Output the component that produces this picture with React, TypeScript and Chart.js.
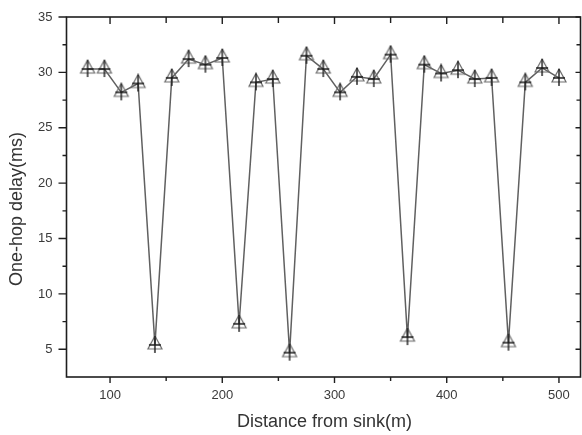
import React, { useEffect, useRef } from "react";
import { Chart, registerables } from "chart.js";

Chart.register(...registerables);

const distances = [80, 95, 110, 125, 140, 155, 170, 185, 200, 215, 230, 245, 260, 275, 290, 305, 320, 335, 350, 365, 380, 395, 410, 425, 440, 455, 470, 485, 500];
const delays = [30.3, 30.3, 28.2, 29.0, 5.4, 29.5, 31.2, 30.7, 31.3, 7.3, 29.1, 29.4, 4.7, 31.5, 30.3, 28.2, 29.6, 29.4, 31.6, 6.1, 30.7, 29.9, 30.2, 29.4, 29.5, 5.6, 29.1, 30.4, 29.5];
const xMajorTicks = [100, 200, 300, 400, 500];
const xMinorTicks = [150, 250, 350, 450];
const yMajorTicks = [5, 10, 15, 20, 25, 30, 35];
const yMinorTicks = [7.5, 12.5, 17.5, 22.5, 27.5, 32.5];
const xTitle = "Distance from sink(m)";
const yTitle = "One-hop delay(ms)";

const FONT = "'Liberation Sans', Arial, sans-serif";

function makeMarker(): HTMLCanvasElement {
  const c = document.createElement("canvas");
  c.width = 18;
  c.height = 20;
  const g = c.getContext("2d")!;
  g.lineWidth = 1.2;
  g.strokeStyle = "#6a6a6a";
  g.beginPath();
  g.moveTo(9, 1);
  g.lineTo(2, 14);
  g.lineTo(16, 14);
  g.closePath();
  g.stroke();
  g.strokeStyle = "#1a1a1a";
  g.lineWidth = 1.4;
  g.beginPath();
  g.moveTo(9, 1);
  g.lineTo(9, 18);
  g.moveTo(3, 10);
  g.lineTo(15, 10);
  g.stroke();
  return c;
}

const framePlugin = {
  id: "frame",
  afterDatasetsDraw(chart: any) {
    const { ctx, chartArea } = chart;
    const xs = chart.scales.x;
    const ys = chart.scales.y;
    const { left, right, top, bottom } = chartArea;
    ctx.save();
    ctx.strokeStyle = "#1e1e1e";
    ctx.lineWidth = 1.6;
    ctx.strokeRect(left, top, right - left, bottom - top);
    ctx.lineWidth = 1.4;
    ctx.beginPath();
    for (const v of yMajorTicks) {
      const p = ys.getPixelForValue(v);
      ctx.moveTo(left - 8, p);
      ctx.lineTo(left, p);
      ctx.moveTo(right - 5, p);
      ctx.lineTo(right, p);
    }
    for (const v of yMinorTicks) {
      const p = ys.getPixelForValue(v);
      ctx.moveTo(left - 4, p);
      ctx.lineTo(left, p);
      ctx.moveTo(right - 4, p);
      ctx.lineTo(right, p);
    }
    for (const v of xMajorTicks) {
      const p = xs.getPixelForValue(v);
      ctx.moveTo(p, bottom);
      ctx.lineTo(p, bottom + 6);
      ctx.moveTo(p, top);
      ctx.lineTo(p, top + 7);
    }
    for (const v of xMinorTicks) {
      const p = xs.getPixelForValue(v);
      ctx.moveTo(p, bottom);
      ctx.lineTo(p, bottom + 4);
      ctx.moveTo(p, top);
      ctx.lineTo(p, top + 6);
    }
    ctx.stroke();

    ctx.fillStyle = "#3a3a3a";
    ctx.font = "13px " + FONT;
    ctx.textBaseline = "middle";
    ctx.textAlign = "center";
    for (const v of xMajorTicks) {
      ctx.fillText(String(v), xs.getPixelForValue(v), bottom + 18);
    }
    ctx.textAlign = "right";
    for (const v of yMajorTicks) {
      ctx.fillText(String(v), left - 14, ys.getPixelForValue(v));
    }

    ctx.fillStyle = "#333";
    ctx.font = "18px " + FONT;
    ctx.textAlign = "center";
    ctx.fillText(xTitle, (left + right) / 2 + 1, 422);
    ctx.translate(17, 209);
    ctx.rotate(-Math.PI / 2);
    ctx.fillText(yTitle, 0, 0);
    ctx.restore();
  },
};

export default function App() {
  const ref = useRef<HTMLCanvasElement>(null);
  useEffect(() => {
    const marker = makeMarker();
    const chart = new Chart(ref.current!, {
      type: "line",
      data: {
        datasets: [
          {
            data: distances.map((d, i) => ({ x: d, y: delays[i] })),
            borderColor: "#606060",
            borderWidth: 1.5,
            pointStyle: marker as any,
            pointRadius: 8,
            tension: 0,
          },
        ],
      },
      options: {
        responsive: false,
        animation: false,
        layout: { autoPadding: false, padding: { top: 17, right: 1.5, left: 0, bottom: 0 } },
        plugins: { legend: { display: false }, tooltip: { enabled: false } },
        scales: {
          x: {
            type: "linear",
            min: 61.2,
            max: 519.2,
            grid: { display: false, drawTicks: false },
            border: { display: false },
            ticks: { display: false },
            afterFit: (s: any) => {
              s.height = 58;
            },
          },
          y: {
            type: "linear",
            min: 2.5,
            max: 35,
            grid: { display: false, drawTicks: false },
            border: { display: false },
            ticks: { display: false },
            afterFit: (s: any) => {
              s.width = 66.5;
            },
          },
        },
      },
      plugins: [framePlugin],
    });
    return () => chart.destroy();
  }, []);
  return (
    <div style={{ position: "fixed", left: 0, top: 0, width: 582, height: 435, background: "#fff" }}>
      <canvas ref={ref} width={582} height={435} />
    </div>
  );
}
